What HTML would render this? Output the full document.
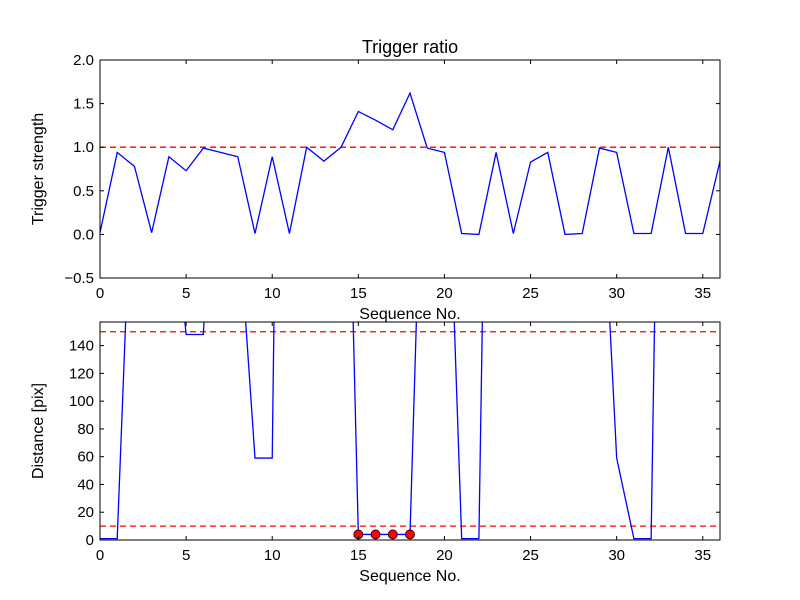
<!DOCTYPE html>
<html><head><meta charset="utf-8"><style>
body{margin:0;background:#fff}
svg{display:block;font-family:"Liberation Sans","DejaVu Sans",sans-serif}
</style></head><body>
<svg id="fig" width="800" height="600" viewBox="0 0 800 600">
<rect width="800" height="600" fill="#fff"/>
</svg>
<script>
const seqIdx = [0,1,2,3,4,5,6,7,8,9,10,11,12,13,14,15,16,17,18,19,20,21,22,23,24,25,26,27,28,29,30,31,32,33,34,35,36];
const strength = [0.02,0.94,0.78,0.02,0.89,0.73,0.99,0.94,0.89,0.01,0.89,0.01,1.0,0.84,1.0,1.41,1.31,1.2,1.62,0.99,0.94,0.01,0.0,0.94,0.01,0.83,0.94,0.0,0.01,0.99,0.94,0.01,0.01,1.0,0.01,0.01,0.84];
const distance = [1,1,320,400,277,148,148,373,240,59,59,1040,600,600,514,4,4,4,4,418,364,1,1,781,600,600,600,600,600,304,59,1,1,781,600,600,600];
const markedIdx = [15,16,17,18];
const markedDist = [4,4,4,4];
const topYTicks = [-0.5,0.0,0.5,1.0,1.5,2.0];
const topYLabels = ["−0.5","0.0","0.5","1.0","1.5","2.0"];
const botYTicks = [0,20,40,60,80,100,120,140];
const xTicks = [0,5,10,15,20,25,30,35];
const topThresh = [1.0];
const botThresh = [10,150];

const NS="http://www.w3.org/2000/svg";
const svg=document.getElementById('fig');
function mk(tag,attrs,parent){const e=document.createElementNS(NS,tag);for(const k in attrs)e.setAttribute(k,attrs[k]);(parent||svg).appendChild(e);return e;}

function axes(o){
  const {L,R,T,B,xmin,xmax,ymin,ymax,name}=o;
  const sx=v=>L+(v-xmin)/(xmax-xmin)*(R-L);
  const sy=v=>B-(v-ymin)/(ymax-ymin)*(B-T);
  const g=mk('g',{});
  
  
  const cid='clip-'+name;
  const cp=mk('clipPath',{id:cid},g);mk('rect',{x:L,y:T,width:R-L,height:B-T},cp);
  return Object.assign({sx:sx,sy:sy,g:g,cid:cid},o);
}
function frame(a,yt,yl,xlabel,ylabel,title){
  const {g,L,R,T,B,sx,sy}=a;
  xTicks.forEach(v=>{const x=sx(v);
    mk('line',{x1:x,y1:B,x2:x,y2:B-4,stroke:'#000'},g);mk('line',{x1:x,y1:T,x2:x,y2:T+4,stroke:'#000'},g);
    const t=mk('text',{x:x,y:B+20,'text-anchor':'middle','font-size':15},g);t.textContent=v;
    
    });
  yt.forEach((v,i)=>{const y=sy(v);
    mk('line',{x1:L,y1:y,x2:L+4,y2:y,stroke:'#000'},g);mk('line',{x1:R,y1:y,x2:R-4,y2:y,stroke:'#000'},g);
    const t=mk('text',{x:L-6,y:y+5,'text-anchor':'end','font-size':15},g);t.textContent=yl[i];
    
    });
  mk('rect',{x:L,y:T,width:R-L,height:B-T,fill:'none',stroke:'#000','stroke-width':1},g);
  const xl=mk('text',{x:(L+R)/2,y:B+41,'text-anchor':'middle','font-size':16},g);xl.textContent=xlabel;
  
  
  const yy=(T+B)/2;
  const ylab=mk('text',{x:0,y:0,'text-anchor':'middle','font-size':16,transform:`translate(${L-57},${yy}) rotate(-90)`},g);ylab.textContent=ylabel;
  
  
  if(title){const t=mk('text',{x:(L+R)/2,y:T-7,'text-anchor':'middle','font-size':18},g);t.textContent=title;
    
    }
}
function series(a,xs,ys,name){
  const p=mk('polyline',{points:xs.map((x,i)=>a.sx(x)+','+a.sy(ys[i])).join(' '),fill:'none',stroke:'#0000ff','stroke-width':1.3,'clip-path':`url(#${a.cid})`},a.g);
  
  
}
function hline(a,v){
  const l=mk('line',{x1:a.L,x2:a.R,y1:a.sy(v),y2:a.sy(v),stroke:'#ff0000','stroke-width':1.3,'stroke-dasharray':'6,4'},a.g);
  
  
}

const topAx=axes({L:100,R:720,T:60,B:278,xmin:0,xmax:36,ymin:-0.5,ymax:2.0,name:'trigger-strength-plot'});
topThresh.forEach(v=>hline(topAx,v));
series(topAx,seqIdx,strength,'trigger-strength-line');
frame(topAx,topYTicks,topYLabels,'Sequence No.','Trigger strength','Trigger ratio');

const botAx=axes({L:100,R:720,T:322,B:540,xmin:0,xmax:36,ymin:0,ymax:157,name:'distance-plot'});
botThresh.forEach(v=>hline(botAx,v));
series(botAx,seqIdx,distance,'distance-line');
markedIdx.forEach((x,i)=>{const c=mk('circle',{cx:botAx.sx(x),cy:botAx.sy(markedDist[i]),r:4.5,fill:'#ff0000',stroke:'#000','stroke-width':0.8},botAx.g);
  
  });
frame(botAx,botYTicks,botYTicks.map(String),'Sequence No.','Distance [pix]',null);
</script>
</body></html>
